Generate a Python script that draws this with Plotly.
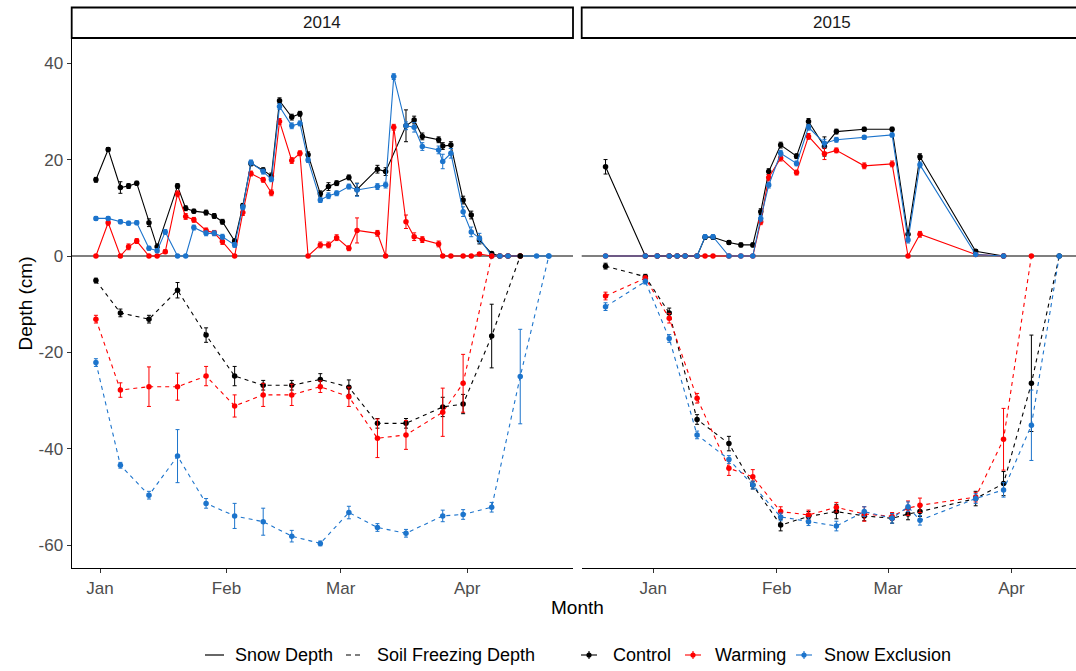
import plotly.graph_objects as go
from datetime import datetime, timedelta

W, H = 1076, 671

# ---------------- 2014 season ----------------
dates_2014 = ["2013-12-31", "2014-01-03", "2014-01-06", "2014-01-08", "2014-01-10", "2014-01-13",
              "2014-01-15", "2014-01-17", "2014-01-20", "2014-01-22", "2014-01-24", "2014-01-27",
              "2014-01-29", "2014-01-31", "2014-02-03", "2014-02-05", "2014-02-07", "2014-02-10",
              "2014-02-12", "2014-02-14", "2014-02-17", "2014-02-19", "2014-02-21", "2014-02-24",
              "2014-02-26", "2014-02-28", "2014-03-03", "2014-03-05", "2014-03-10", "2014-03-12",
              "2014-03-14", "2014-03-17", "2014-03-19", "2014-03-21", "2014-03-25", "2014-03-26",
              "2014-03-28", "2014-03-31", "2014-04-02", "2014-04-04", "2014-04-07", "2014-04-09",
              "2014-04-11", "2014-04-14", "2014-04-18", "2014-04-21"]

snow_2014_control = [15.8, 22.1, 14.2, 14.5, 15.1, 6.9, 1.9, None, 14.5, 9.9, 9.3, 9.0,
                     8.3, 7.1, 3.1, 10.4, 19.2, 17.8, 16.6, 32.2, 28.8, 29.5, 21.0, 12.9,
                     14.4, 15.1, 16.3, 13.8, 18.0, 17.5, None, 27.0, 28.2, 24.8, 24.1, 22.8,
                     23.0, 11.6, 8.5, 3.3, 0.5, 0, 0, 0, None, None]
snow_2014_control_se = [0.5, 0.4, 1.2, 0.5, 0.4, 0.8, 0.6, None, 0.5, 0.5, 0.4, 0.5,
                        0.5, 0.5, 0.4, 0.5, 0.5, 0.5, 0.6, 0.6, 0.6, 0.5, 0.6, 0.6,
                        0.8, 0.5, 0.5, 1.3, 0.8, 0.8, None, 3.3, 0.8, 0.7, 0.6, 0.7,
                        0.7, 0.8, 0.8, 0.8, 0.3, 0, 0, 0, None, None]

snow_2014_warming = [0, 6.9, 0, 1.9, 3.1, 0, 0, 0.9, 12.9, 8.2, 7.5, 5.3,
                     4.8, 3.0, 0, 9.0, 17.1, 15.8, 13.1, 27.9, 19.8, 21.3, 0, 2.3,
                     2.3, 3.8, 1.6, 5.3, 4.7, 0, 26.7, 7.1, 4.0, 3.4, 2.5, 0,
                     0, 0, 0, 0.4, 0, 0, 0, 0, None, None]
snow_2014_warming_se = [0, 0.5, 0, 0.6, 0.5, 0, 0, 0.4, 0.6, 0.6, 0.5, 0.5,
                        0.5, 0.6, 0, 0.6, 0.5, 0.5, 0.6, 0.6, 0.6, 0.5, 0, 0.6,
                        0.6, 0.6, 0.5, 2.6, 0.6, 0, 0.6, 1.4, 0.8, 0.6, 0.6, 0,
                        0, 0, 0, 0.3, 0, 0, 0, 0, None, None]

snow_2014_snowex = [7.8, 7.8, 7.1, 6.8, 6.9, 1.6, 1.1, 5.0, 0, 0, 5.9, 4.7,
                    4.7, 4.0, 2.3, 10.1, 19.4, 17.5, 15.9, 31.0, 27.0, 27.5, 19.9, 11.6,
                    12.5, 13.0, 14.4, 13.7, 14.4, 14.7, 37.2, 27.0, 26.7, 22.7, 22.0, 19.6,
                    21.3, 9.2, 5.0, 3.7, 0, 0, 0, None, 0, 0]
snow_2014_snowex_se = [0.4, 0.4, 0.4, 0.4, 0.4, 0.4, 0.4, 0.5, 0, 0, 0.5, 0.5,
                       0.5, 0.5, 0.5, 0.5, 0.5, 0.5, 0.5, 0.6, 0.6, 0.5, 0.5, 0.5,
                       0.6, 0.5, 0.5, 1.3, 0.6, 0.6, 0.6, 0.8, 1.0, 0.8, 0.8, 1.5,
                       1.0, 1.0, 1.0, 1.0, 0, 0, 0, None, 0, 0]

frost_2014_dates = ["2013-12-31", "2014-01-06", "2014-01-13", "2014-01-20", "2014-01-27",
                    "2014-02-03", "2014-02-10", "2014-02-17", "2014-02-24", "2014-03-03",
                    "2014-03-10", "2014-03-17", "2014-03-26", "2014-03-31", "2014-04-07",
                    "2014-04-14", "2014-04-21"]
frost_2014_control = [-5.1, -11.8, -13.1, -7.1, -16.4, -24.9, -26.8, -26.8, -25.6, -27.2,
                      -34.7, -34.7, -31.3, -30.7, -16.6, 0, None]
frost_2014_control_se = [0.5, 0.8, 0.8, 1.6, 1.5, 2.0, 1.0, 1.0, 1.2, 1.5,
                         1.0, 1.0, 2.0, 2.0, 6.6, 0, None]
frost_2014_warming = [-13.1, -27.8, -27.1, -27.1, -24.9, -31.1, -28.8, -28.8, -27.1, -29.2,
                      -37.8, -37.1, -32.4, -26.4, 0, None, None]
frost_2014_warming_se = [0.8, 1.5, 4.1, 2.8, 2.0, 2.3, 2.4, 2.2, 1.2, 2.0,
                         4.0, 3.0, 5.0, 6.0, 0, None, None]
frost_2014_snowex = [-22.1, -43.4, -49.6, -41.5, -51.3, -53.9, -55.1, -58.1, -59.6, -53.2,
                     -56.3, -57.5, -53.9, -53.6, -52.1, -25.0, 0]
frost_2014_snowex_se = [0.8, 0.6, 0.8, 5.5, 1.0, 2.6, 2.8, 1.2, 0.5, 1.3,
                        0.8, 0.8, 1.2, 1.0, 1.0, 9.8, 0]

# ---------------- 2015 season ----------------
dates_2015 = ["2014-12-20", "2014-12-30", "2015-01-02", "2015-01-05", "2015-01-07", "2015-01-09",
              "2015-01-12", "2015-01-14", "2015-01-16", "2015-01-20", "2015-01-23", "2015-01-26",
              "2015-01-28", "2015-01-30", "2015-02-02", "2015-02-06", "2015-02-09", "2015-02-13",
              "2015-02-16", "2015-02-23", "2015-03-02", "2015-03-06", "2015-03-09", "2015-03-23",
              "2015-03-30", "2015-04-06", "2015-04-13"]

snow_2015_control = [18.5, 0, 0, 0, 0, 0, 0, 3.9, 3.9, 2.8, 2.3, 2.3, 9.2, 17.5,
                     23.0, 20.7, 27.9, 22.7, 25.8, 26.3, 26.3, 4.5, 20.6, 1.0, 0, None, None]
snow_2015_control_se = [1.5, 0, 0, 0, 0, 0, 0, 0.4, 0.4, 0.4, 0.4, 0.4, 0.6, 0.6,
                        0.6, 0.5, 0.6, 2.0, 0.5, 0.4, 0.4, 0.8, 0.6, 0.3, 0, None, None]
snow_2015_warming = [0, 0, 0, 0, 0, 0, 0, 0, 0, 0, 0, 0, 7.1, 16.3,
                     20.3, 17.3, 24.8, 21.2, 21.9, 18.7, 19.1, 0, 4.5, 0.3, 0, None, None]
snow_2015_warming_se = [0, 0, 0, 0, 0, 0, 0, 0, 0, 0, 0, 0, 0.6, 0.6,
                        0.6, 0.5, 0.6, 1.2, 0.5, 0.6, 0.6, 0, 0.6, 0.2, 0, None, None]
snow_2015_snowex = [0, 0, 0, 0, 0, 0, 0, 4.0, 4.0, 0, 0, 0, 7.8, 14.7,
                    21.3, 19.2, 26.7, 23.4, 24.1, 24.6, 25.1, 3.3, 18.9, 0.3, 0, None, None]
snow_2015_snowex_se = [0, 0, 0, 0, 0, 0, 0, 0.4, 0.4, 0, 0, 0, 0.6, 0.6,
                       0.6, 0.5, 0.6, 0.8, 0.5, 0.4, 0.4, 0.6, 0.6, 0.2, 0, None, None]

frost_2015_dates = ["2014-12-20", "2014-12-30", "2015-01-05", "2015-01-12", "2015-01-20",
                    "2015-01-26", "2015-02-02", "2015-02-09", "2015-02-16", "2015-02-23",
                    "2015-03-02", "2015-03-06", "2015-03-09", "2015-03-23", "2015-03-30",
                    "2015-04-06", "2015-04-13"]
frost_2015_control = [-2.1, -4.3, -11.8, -33.9, -38.9, -47.5, -55.8, -54.0, -53.0, -53.9,
                      -54.4, -53.5, -53.0, -50.3, -47.2, -26.4, 0]
frost_2015_control_se = [0.6, 0.5, 1.0, 1.0, 1.5, 0.8, 1.2, 1.0, 1.5, 1.0,
                         1.0, 1.2, 1.0, 1.5, 2.5, 10.0, 0]
frost_2015_warming = [-8.3, -4.6, -12.9, -29.5, -44.0, -45.8, -53.0, -53.7, -52.1, -53.5,
                      -54.0, -52.3, -51.7, -50.0, -38.0, 0, None]
frost_2015_warming_se = [0.8, 0.5, 1.0, 1.0, 1.5, 1.5, 1.0, 1.0, 1.0, 1.5,
                         0.8, 1.5, 1.5, 1.0, 6.4, 0, None]
frost_2015_snowex = [-10.5, -5.3, -17.1, -37.1, -42.2, -47.5, -54.1, -55.1, -56.0, -53.0,
                     -54.4, -52.0, -54.8, -50.3, -48.5, -35.1, 0]
frost_2015_snowex_se = [0.8, 0.5, 0.8, 0.8, 0.8, 0.8, 0.8, 0.8, 1.0, 1.0,
                        1.0, 1.0, 1.0, 1.0, 1.5, 7.3, 0]

month_ticks_2014 = ["2014-01-01", "2014-02-01", "2014-03-01", "2014-04-01"]
month_ticks_2015 = ["2015-01-01", "2015-02-01", "2015-03-01", "2015-04-01"]
month_labels = ["Jan", "Feb", "Mar", "Apr"]
y_ticks = [-60, -40, -20, 0, 20, 40]
y_tick_labels = ["-60", "-40", "-20", "0", "20", "40"]

treatments = ["Control", "Warming", "Snow Exclusion"]
colors = {"Control": "#000000", "Warming": "#FF0000", "Snow Exclusion": "#1C74CC"}

FONT = "Liberation Sans, Arial, sans-serif"
TICK_GREY = "#4D4D4D"


def px_x(p):
    return p / W


def px_y(p):
    return 1 - p / H


fig = go.Figure()


def add_series(xs, ys, errs, color, dash, xa, ya):
    pts = [(x, y, e) for x, y, e in zip(xs, ys, errs) if y is not None]
    fig.add_trace(go.Scatter(
        x=[p[0] for p in pts], y=[p[1] for p in pts],
        mode="lines+markers",
        line=dict(color=color, width=1.1, dash=dash),
        marker=dict(color=color, size=5.5),
        error_y=dict(type="data", array=[p[2] for p in pts], color=color,
                     thickness=1, width=2),
        xaxis=xa, yaxis=ya, showlegend=False, hoverinfo="skip",
    ))


season_data = [
    ("x", "y", dates_2014, frost_2014_dates,
     [(snow_2014_control, snow_2014_control_se), (snow_2014_warming, snow_2014_warming_se),
      (snow_2014_snowex, snow_2014_snowex_se)],
     [(frost_2014_control, frost_2014_control_se), (frost_2014_warming, frost_2014_warming_se),
      (frost_2014_snowex, frost_2014_snowex_se)]),
    ("x2", "y2", dates_2015, frost_2015_dates,
     [(snow_2015_control, snow_2015_control_se), (snow_2015_warming, snow_2015_warming_se),
      (snow_2015_snowex, snow_2015_snowex_se)],
     [(frost_2015_control, frost_2015_control_se), (frost_2015_warming, frost_2015_warming_se),
      (frost_2015_snowex, frost_2015_snowex_se)]),
]

for xa, ya, sdates, fdates, snow, frost in season_data:
    for trt, (vals, se) in zip(treatments, snow):
        add_series(sdates, vals, se, colors[trt], "solid", xa, ya)
    for trt, (vals, se) in zip(treatments, frost):
        add_series(fdates, vals, se, colors[trt], "4px,4px", xa, ya)


def date_at(origin, days):
    return (datetime.fromisoformat(origin) + timedelta(days=days)).strftime("%Y-%m-%d %H:%M")


# panel geometry (pixels)
P1_L, P1_R = 71.7, 573.0
P2_L, P2_R = 581.7, 1083.0
P_TOP, P_BOT = 39.0, 568.0

x1_range = [date_at("2014-01-01", (P1_L - 100.0) / 4.08), date_at("2014-01-01", (P1_R - 100.0) / 4.08)]
x2_range = [date_at("2015-01-01", (P2_L - 653.3) / 3.98), date_at("2015-01-01", (W - 653.3) / 3.98)]

common_x = dict(type="date", showgrid=False, zeroline=False, showline=True, linecolor="#000000",
                linewidth=1.2, ticks="outside", ticklen=4, tickcolor="#333333", tickwidth=1,
                tickfont=dict(family=FONT, size=17, color=TICK_GREY), ticktext=month_labels)
common_y = dict(range=[-64.7, 45.0], domain=[px_y(P_BOT), px_y(P_TOP)], showgrid=False,
                zeroline=False, tickvals=y_ticks, ticktext=y_tick_labels)

fig.update_layout(
    width=W, height=H, margin=dict(l=0, r=0, t=0, b=0),
    paper_bgcolor="white", plot_bgcolor="white", showlegend=False,
    xaxis=dict(domain=[px_x(P1_L), px_x(P1_R)], range=x1_range, tickvals=month_ticks_2014,
               anchor="y", **common_x),
    xaxis2=dict(domain=[px_x(P2_L), 1.0], range=x2_range, tickvals=month_ticks_2015,
                anchor="y2", **common_x),
    yaxis=dict(anchor="x", showline=True, linecolor="#000000", linewidth=1.2, ticks="outside",
               ticklen=4, tickcolor="#333333", tickfont=dict(family=FONT, size=17, color=TICK_GREY),
               **common_y),
    yaxis2=dict(anchor="x2", showline=False, showticklabels=False, ticks="", **common_y),
)

shapes = []
# zero reference line in each panel
for xr, yr in (("x domain", "y"), ("x2 domain", "y2")):
    shapes.append(dict(type="line", xref=xr, yref=yr, x0=0, x1=1, y0=0, y1=0,
                       line=dict(color="#000000", width=1.2), layer="below"))

# facet strips
for (l, r), label in (((P1_L, P1_R), "2014"), ((P2_L, P2_R), "2015")):
    shapes.append(dict(type="rect", xref="paper", yref="paper", x0=px_x(l), x1=px_x(r),
                       y0=px_y(38), y1=px_y(7.5), line=dict(color="#000000", width=1.8),
                       fillcolor="white"))


def label(text, x, y, size, color="#000000", xanchor="center", angle=0):
    return dict(text=text, x=px_x(x), y=px_y(y), xref="paper", yref="paper",
                xanchor=xanchor, yanchor="middle", showarrow=False, textangle=angle,
                font=dict(family=FONT, size=size, color=color))


annotations = [
    label("2014", (P1_L + P1_R) / 2, 22.5, 17, "#1A1A1A"),
    label("2015", (P2_L + P2_R) / 2, 22.5, 17, "#1A1A1A"),
    label("Month", (P1_L + P2_R) / 2, 607, 19),
    label("Depth (cm)", 25, (P_TOP + P_BOT) / 2, 19, angle=-90),
]

# legend row
LEG_Y = 655
shapes.append(dict(type="line", xref="paper", yref="paper", x0=px_x(205), x1=px_x(224),
                   y0=px_y(LEG_Y), y1=px_y(LEG_Y), line=dict(color="#000000", width=1.2)))
annotations.append(label("Snow Depth", 233, LEG_Y, 18, xanchor="left"))
shapes.append(dict(type="line", xref="paper", yref="paper", x0=px_x(346), x1=px_x(364),
                   y0=px_y(LEG_Y), y1=px_y(LEG_Y), line=dict(color="#000000", width=1.2, dash="5px,4px")))
annotations.append(label("Soil Freezing Depth", 375, LEG_Y, 18, xanchor="left"))

for cx, tx, trt in ((589, 611, "Control"), (693, 713, "Warming"), (804, 822, "Snow Exclusion")):
    c = colors[trt]
    shapes.append(dict(type="line", xref="paper", yref="paper", x0=px_x(cx - 8), x1=px_x(cx + 8),
                       y0=px_y(LEG_Y), y1=px_y(LEG_Y), line=dict(color=c, width=1.1)))
    shapes.append(dict(type="line", xref="paper", yref="paper", x0=px_x(cx), x1=px_x(cx),
                       y0=px_y(LEG_Y - 4), y1=px_y(LEG_Y + 4), line=dict(color=c, width=1.1)))
    shapes.append(dict(type="circle", xref="paper", yref="paper", x0=px_x(cx - 2.6), x1=px_x(cx + 2.6),
                       y0=px_y(LEG_Y + 2.6), y1=px_y(LEG_Y - 2.6), line=dict(color=c, width=0),
                       fillcolor=c))
    annotations.append(label(trt, tx, LEG_Y, 18, xanchor="left"))

fig.update_layout(shapes=shapes, annotations=annotations)

fig.write_html("out.html")
